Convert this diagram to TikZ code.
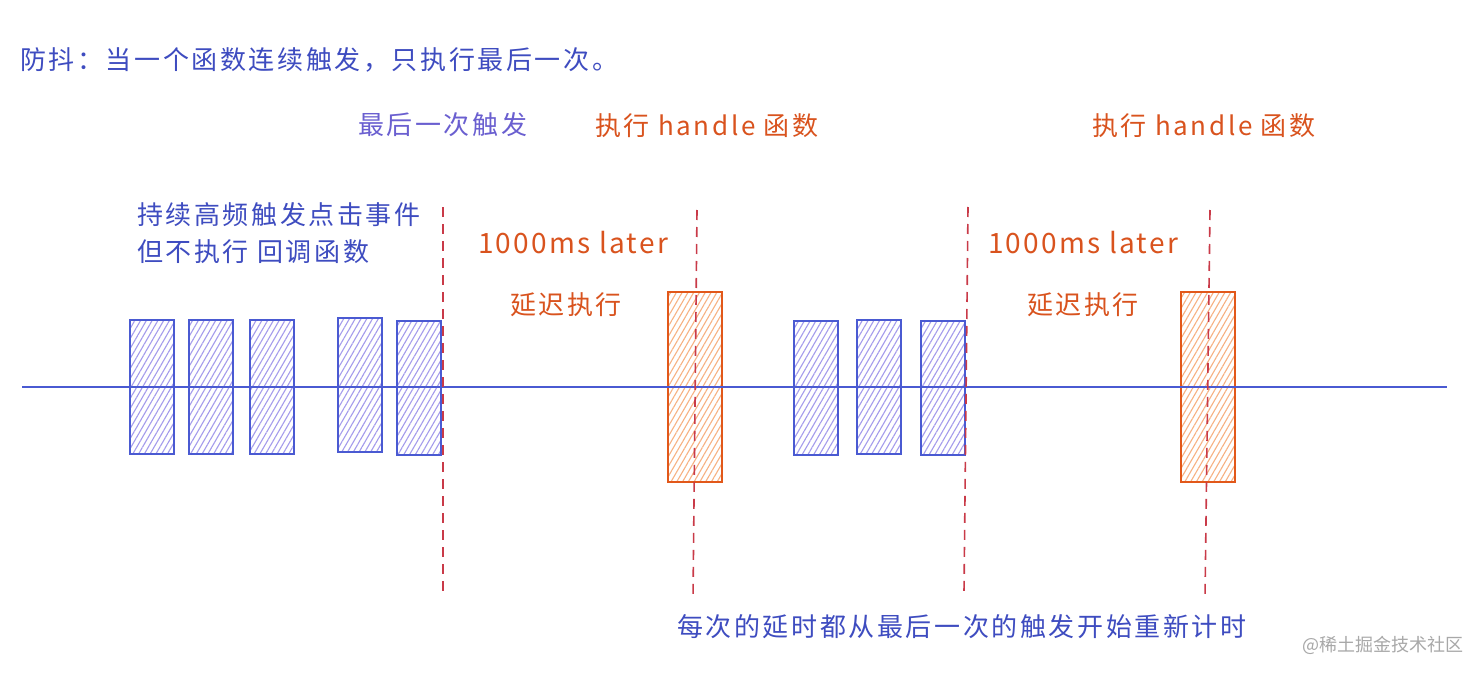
\documentclass[tikz,border=0pt]{standalone}
\usepackage{fontspec}
\setmainfont{Noto Sans CJK SC}
\newfontfamily\cjk{Noto Sans CJK SC}
\usetikzlibrary{patterns.meta}
\definecolor{cblue}{HTML}{4A5AD2}
\definecolor{clav}{HTML}{A49BEC}
\definecolor{corange}{HTML}{E2581A}
\definecolor{cpeach}{HTML}{F7B182}
\definecolor{cred}{HTML}{C93A48}
\definecolor{ctext}{HTML}{3E4CC0}
\definecolor{cpurple}{HTML}{6A5FD0}
\definecolor{cotext}{HTML}{D9531E}
\definecolor{cgray}{HTML}{A8A8A8}
\tikzset{
  blubox/.style={draw=cblue, line width=2pt, inner sep=0pt,
    pattern={Lines[angle=60,distance=5pt,line width=1.1pt]}, pattern color=clav,
    minimum width=44pt, minimum height=134pt},
  orgbox/.style={draw=corange, line width=2pt, inner sep=0pt,
    pattern={Lines[angle=60,distance=5pt,line width=1.1pt]}, pattern color=cpeach,
    minimum width=54pt, minimum height=190pt},
  reddash/.style={draw=cred, line width=1.6pt, dash pattern=on 10pt off 7pt},
  axisline/.style={draw=cblue, line width=1.5pt},
  lbl/.style={anchor=west, inner sep=0pt, font=\fontsize{26}{30}\selectfont\addfontfeatures{LetterSpace=10}},
  bluetxt/.style={lbl, text=ctext},
  purptxt/.style={lbl, text=cpurple},
  orgtxt/.style={lbl, text=cotext},
  bigorg/.style={anchor=west, inner sep=0pt, text=cotext, font=\fontsize{28}{32}\selectfont\addfontfeatures{LetterSpace=8}},
}
\begin{document}
\begin{tikzpicture}[x=1pt,y=-1pt]
\useasboundingbox[fill=white] (0,0) rectangle (1483,674);

% boxes
\node[blubox] (b1) at (152,387) {};
\node[blubox] (b2) at (211,387) {};
\node[blubox] (b3) at (272,387) {};
\node[blubox] (b4) at (360,385) {};
\node[blubox] (b5) at (419,388) {};
\node[blubox] (b6) at (816,388) {};
\node[blubox] (b7) at (879,387) {};
\node[blubox] (b8) at (943,388) {};
\node[orgbox] (o1) at (695,387) {};
\node[orgbox] (o2) at (1208,387) {};

% axis
\coordinate (axl) at (22,387);
\coordinate (axr) at (1447,387);
\draw[axisline] (axl) -- (axr);

% dashed markers
\coordinate (d1t) at (443,207); \coordinate (d1b) at (443,592);
\coordinate (d2t) at (697,210); \coordinate (d2b) at (693,598);
\coordinate (d3t) at (968,207); \coordinate (d3b) at (964,592);
\coordinate (d4t) at (1210,210); \coordinate (d4b) at (1205,598);
\draw[reddash] (d1t) -- (d1b);
\draw[reddash] (d2t) -- (d2b);
\draw[reddash] (d3t) -- (d3b);
\draw[reddash] (d4t) -- (d4b);

% texts
\node[bluetxt] (title) at (20,60) {防抖：当一个函数连续触发，只执行最后一次。};
\node[purptxt] (last) at (358,125) {最后一次触发};
\node[orgtxt] (exec1) at (595,126) {执行 handle 函数};
\node[orgtxt] (exec2) at (1092,126) {执行 handle 函数};
\node[bluetxt] (cont1) at (137,215) {持续高频触发点击事件};
\node[bluetxt] (cont2) at (137,252) {但不执行 回调函数};
\node[bigorg] (later1) at (478,243) {1000ms later};
\node[bigorg] (later2) at (988,243) {1000ms later};
\node[orgtxt] (delay1) at (510,305) {延迟执行};
\node[orgtxt] (delay2) at (1027,305) {延迟执行};
\node[bluetxt] (bottom) at (677,627) {每次的延时都从最后一次的触发开始重新计时};
\node[anchor=west, inner sep=0pt, text=cgray, font=\fontsize{18}{20}\selectfont] (wm) at (1302,645) {@稀土掘金技术社区};
\end{tikzpicture}
\end{document}
